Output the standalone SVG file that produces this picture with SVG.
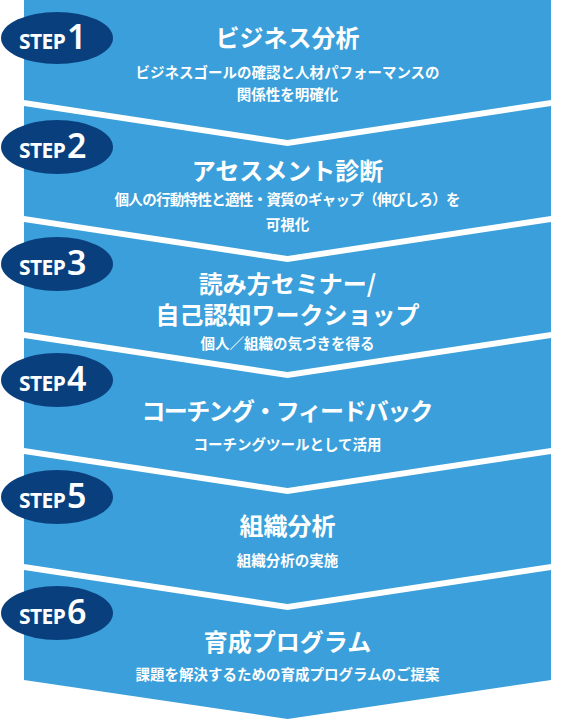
<svg xmlns="http://www.w3.org/2000/svg" width="572" height="727" viewBox="0 0 572 727">
<style>
.band{fill:#3a9fda}
.badge{fill:#0a3f7d}
.step{font-family:"Noto Sans","Open Sans","Liberation Sans",sans-serif;font-weight:700;fill:#fff}
.s{font-size:21px;letter-spacing:-0.6px}
.n{font-size:34px;font-weight:600}
.t{font-family:"Noto Sans CJK JP","Noto Sans",sans-serif;font-weight:700;font-size:24px;fill:#fff;text-anchor:middle}
.d{font-family:"Noto Sans CJK JP","Noto Sans",sans-serif;font-weight:700;font-size:14.5px;fill:#fff;text-anchor:middle}
</style>
<rect width="572" height="727" fill="#fff"/>
<g id="connectors"/>
<g id="step1">
<polygon class="band" points="24,0 551,0 551,100 287.5,140 24,100"/>
<ellipse class="badge" cx="57" cy="38" rx="56" ry="26"/>
<text class="step" y="49"><tspan x="19" class="s">STEP</tspan><tspan class="n" dx="2">1</tspan></text>
<text class="t" x="287.5" y="47">ビジネス分析</text>
<text class="d" x="287.5" y="78">ビジネスゴールの確認と人材パフォーマンスの</text>
<text class="d" x="287.5" y="100">関係性を明確化</text>
</g>
<g id="step2">
<polygon class="band" points="24,106 287.5,146 551,106 551,216 287.5,256 24,216"/>
<ellipse class="badge" cx="57" cy="147" rx="56" ry="27"/>
<text class="step" y="158"><tspan x="19" class="s">STEP</tspan><tspan class="n" dx="2">2</tspan></text>
<text class="t" x="287.5" y="180">アセスメント診断</text>
<text class="d" x="287.5" y="205" textLength="346">個人の行動特性と適性・資質のギャップ（伸びしろ）を</text>
<text class="d" x="287.5" y="230">可視化</text>
</g>
<g id="step3">
<polygon class="band" points="24,222 287.5,262 551,222 551,332 287.5,372 24,332"/>
<ellipse class="badge" cx="57" cy="264" rx="56" ry="27"/>
<text class="step" y="275"><tspan x="19" class="s">STEP</tspan><tspan class="n" dx="2">3</tspan></text>
<text class="t" x="287.5" y="293">読み方セミナー/</text>
<text class="t" x="287.5" y="324">自己認知ワークショップ</text>
<text class="d" x="287.5" y="349">個人／組織の気づきを得る</text>
</g>
<g id="step4">
<polygon class="band" points="24,338 287.5,378 551,338 551,448 287.5,488 24,448"/>
<ellipse class="badge" cx="57" cy="380" rx="56" ry="27"/>
<text class="step" y="391"><tspan x="19" class="s">STEP</tspan><tspan class="n" dx="2">4</tspan></text>
<text class="t" x="287.5" y="420" textLength="292">コーチング・フィードバック</text>
<text class="d" x="287.5" y="450">コーチングツールとして活用</text>
</g>
<g id="step5">
<polygon class="band" points="24,454 287.5,494 551,454 551,564 287.5,604 24,564"/>
<ellipse class="badge" cx="57" cy="497" rx="56" ry="27"/>
<text class="step" y="508"><tspan x="19" class="s">STEP</tspan><tspan class="n" dx="2">5</tspan></text>
<text class="t" x="287.5" y="535">組織分析</text>
<text class="d" x="287.5" y="566">組織分析の実施</text>
</g>
<g id="step6">
<polygon class="band" points="24,570 287.5,610 551,570 551,680 287.5,719 24,680"/>
<ellipse class="badge" cx="57" cy="613" rx="56" ry="27"/>
<text class="step" y="624"><tspan x="19" class="s">STEP</tspan><tspan class="n" dx="2">6</tspan></text>
<text class="t" x="287.5" y="651">育成プログラム</text>
<text class="d" x="287.5" y="680">課題を解決するための育成プログラムのご提案</text>
</g>
</svg>
